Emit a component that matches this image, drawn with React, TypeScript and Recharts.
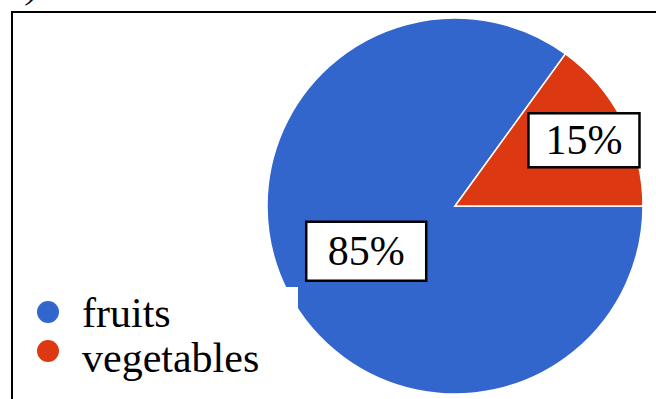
import { PieChart, Pie, Cell, Legend } from 'recharts';

const categories = ['fruits', 'vegetables'];
const shares = [85, 15];
const labelTexts = ['85%', '15%'];

const COLORS = ['#3366cc', '#dc3912'];
// how far out (fraction of radius) each label box sits, and its box size
const LABEL_RADIUS = [0.53, 0.77];
const LABEL_BOX = [
  { w: 120, h: 59 },
  { w: 111, h: 54 },
];

const data = categories.map((name, i) => ({ name, value: shares[i] }));

const SERIF = '"Liberation Serif", "Times New Roman", serif';
const RADIAN = Math.PI / 180;

const renderLabel = (props: any) => {
  const { cx, cy, midAngle, outerRadius, index } = props;
  const r = outerRadius * LABEL_RADIUS[index];
  const x = cx + r * Math.cos(-midAngle * RADIAN);
  const y = cy + r * Math.sin(-midAngle * RADIAN);
  const box = LABEL_BOX[index];
  return (
    <g>
      <rect
        x={x - box.w / 2}
        y={y - box.h / 2}
        width={box.w}
        height={box.h}
        fill="#fff"
        stroke="#000"
        strokeWidth={2.5}
      />
      <text
        x={x}
        y={y + 14}
        textAnchor="middle"
        fontFamily={SERIF}
        fontSize={42}
        fill="#000"
      >
        {labelTexts[index]}
      </text>
    </g>
  );
};

const renderLegend = (props: any) => {
  const { payload } = props;
  return (
    <svg width={271} height={112} style={{ display: 'block', background: '#fff' }}>
      {(payload || []).map((entry: any, i: number) => (
        <g key={entry.value}>
          <circle cx={21} cy={25 + i * 39} r={11} fill={entry.color} />
          <text
            x={55}
            y={40 + i * 45}
            fontFamily={SERIF}
            fontSize={42}
            fill="#000"
          >
            {entry.value}
          </text>
        </g>
      ))}
    </svg>
  );
};

export default function App() {
  return (
    <div
      style={{
        position: 'absolute',
        left: 0,
        top: 0,
        width: 656,
        height: 399,
        overflow: 'hidden',
        background: '#fff',
      }}
    >
      {/* bottom of a glyph from the text above the frame */}
      <div
        style={{
          position: 'absolute',
          left: 27,
          top: -34,
          fontFamily: SERIF,
          fontSize: 36,
          lineHeight: '40px',
          fontStyle: 'italic',
        }}
      >
        )
      </div>
      <div
        style={{
          position: 'absolute',
          left: 11,
          top: 11,
          width: 700,
          height: 500,
          border: '2px solid #000',
        }}
      />
      <div style={{ position: 'absolute', left: 0, top: 0 }}>
        <PieChart width={656} height={399} margin={{ top: 0, right: 0, bottom: 0, left: 0 }}>
          <Pie
            data={data}
            dataKey="value"
            nameKey="name"
            cx={455}
            cy={206}
            outerRadius={188}
            startAngle={54}
            endAngle={414}
            stroke="#fff"
            strokeWidth={1.5}
            label={renderLabel}
            labelLine={false}
            isAnimationActive={false}
          >
            {data.map((d, i) => (
              <Cell key={d.name} fill={COLORS[i]} />
            ))}
          </Pie>
          <Legend
            layout="horizontal"
            verticalAlign="bottom"
            align="left"
            content={renderLegend}
            wrapperStyle={{ left: 27, top: 287, width: 271, height: 112 }}
          />
        </PieChart>
      </div>
    </div>
  );
}
